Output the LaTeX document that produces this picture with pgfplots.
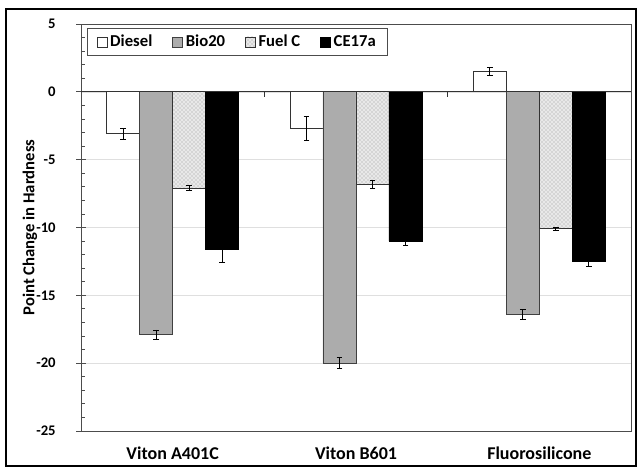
\documentclass[border=0pt]{standalone}
\usepackage{pgfplots}
\pgfplotsset{compat=1.18}
\usepackage{fontspec}
\setmainfont{Carlito}
\usetikzlibrary{patterns}
\begin{document}
\begin{tikzpicture}
\fill[white] (0pt,0pt) rectangle (477.75pt,-351pt);
\draw[line width=1.5pt] (4.5pt,-6.5pt) rectangle (477pt,-349.5pt);
\begin{axis}[
  at={(60.75pt,-18pt)}, anchor=north west,
  scale only axis, width=412.5pt, height=305.25pt,
  xmin=-0.5, xmax=2.5, ymin=-25, ymax=5,
  ybar=0pt, bar width=24.75pt,
  xtick={0,1,2},
  xticklabels={Viton A401C, Viton B601, Fluorosilicone},
  x tick style={draw=none},
  xticklabel style={font=\bfseries\fontsize{13.5}{15}\selectfont, yshift=-5pt},
  ytick={-25,-20,...,5},
  ytick pos=left,
  minor y tick num=4,
  ymajorgrids, major grid style={gray!25},
  tick align=center, major tick length=7pt, minor tick length=3pt,
  minor y tick style={xshift=1.5pt},
  y tick style={gray!60!black, line width=0.6pt},
  yticklabel style={font=\bfseries\fontsize{11}{13}\selectfont, xshift=-12pt},
  /pgf/number format/assume math mode=true,
  axis line style={gray!60!black, line width=0.7pt},
  ylabel={Point Change in Hardness},
  ylabel style={at={(axis description cs:-0.0927,0.5)}, anchor=center, font=\bfseries\fontsize{12.5}{14}\selectfont},
  legend style={at={(0.011,0.99)}, anchor=north west, legend columns=4,
    draw=gray!60!black, line width=0.6pt, inner xsep=7pt, inner ysep=3pt,
    font=\bfseries\fontsize{12.5}{14}\selectfont,
    /tikz/every even column/.append style={column sep=13pt}},
  legend image code/.code={\draw[#1] (0pt,-3.75pt) rectangle (7.5pt,3.75pt);},
  error bars/y dir=both, error bars/y explicit,
  error bars/error bar style={black, line width=0.6pt},
  error bars/error mark options={rotate=90, mark size=2.2pt, black, line width=0.6pt},
]
\addplot[fill=white, draw=black!80, line width=0.6pt] coordinates {
  (0,-3.1) +- (0,0.4)
  (1,-2.7) +- (0,0.9)
  (2,1.5) +- (0,0.3)
};
\addplot[fill=gray!65, draw=black!75, line width=0.6pt] coordinates {
  (0,-17.9) +- (0,0.35)
  (1,-20.0) +- (0,0.4)
  (2,-16.4) +- (0,0.35)
};
\addplot[fill=gray!18, draw=black!80, line width=0.6pt, postaction={pattern=crosshatch dots, pattern color=gray!80}] coordinates {
  (0,-7.1) +- (0,0.2)
  (1,-6.8) +- (0,0.3)
  (2,-10.1) +- (0,0.1)
};
\addplot[fill=black, draw=black, line width=0.6pt] coordinates {
  (0,-11.6) +- (0,1.0)
  (1,-11.0) +- (0,0.35)
  (2,-12.5) +- (0,0.35)
};
\legend{Diesel, Bio20, Fuel C, CE17a}
\draw[black!80, line width=0.7pt] (axis cs:-0.5,0) -- (axis cs:2.5,0);
\draw[black!80, line width=0.6pt] (axis cs:0.5,0) -- (axis cs:0.5,-0.35);
\draw[black!80, line width=0.6pt] (axis cs:1.5,0) -- (axis cs:1.5,-0.35);
\end{axis}
\end{tikzpicture}
\end{document}
